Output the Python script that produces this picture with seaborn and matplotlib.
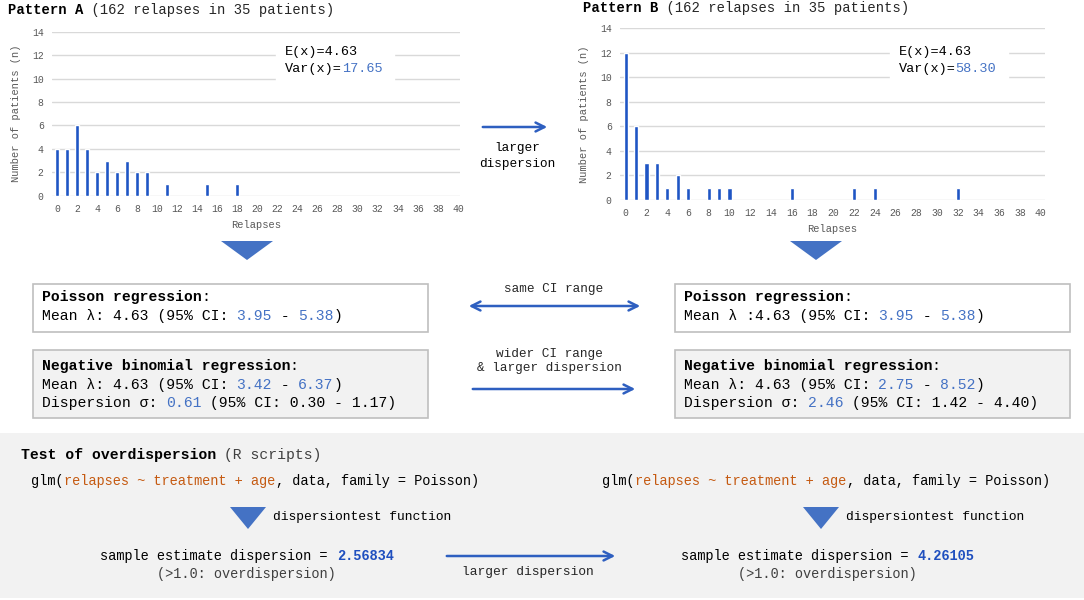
import matplotlib
matplotlib.use("Agg")
import matplotlib.pyplot as plt
from matplotlib.patches import Rectangle, Polygon, FancyArrowPatch
import seaborn as sns

# -------------------------------
# Data
# -------------------------------
relapses_a = [0, 1, 2, 3, 4, 5, 6, 7, 8, 9, 11, 15, 18]
patients_a = [4, 4, 6, 4, 2, 3, 2, 3, 2, 2, 1, 1, 1]
relapses_b = [0, 1, 2, 3, 4, 5, 6, 8, 9, 10, 16, 22, 24, 32]
patients_b = [12, 6, 3, 3, 1, 2, 1, 1, 1, 1, 1, 1, 1, 1]

mean_a, var_a = "4.63", "17.65"
mean_b, var_b = "4.63", "58.30"
pois_ci = ("3.95", "5.38")
nb_ci_a, nb_disp_a, nb_disp_ci_a = ("3.42", "6.37"), "0.61", ("0.30", "1.17")
nb_ci_b, nb_disp_b, nb_disp_ci_b = ("2.75", "8.52"), "2.46", ("1.42", "4.40")
test_disp_a, test_disp_b = "2.56834", "4.26105"

x_ticks = list(range(0, 41, 2))
y_ticks = list(range(0, 15, 2))

# -------------------------------
# Style
# -------------------------------
sns.set_style("white")
MONO = "Liberation Mono"
plt.rcParams["font.family"] = [MONO, "DejaVu Sans"]

W, H, DPI = 1084, 600, 100
BAR = "#1f55c4"
LBLUE = "#4472c4"
DBLUE = "#1f4fbf"
ORANGE = "#c55a11"
GRAY_TXT = "#595959"
ARROW = "#2e5fc0"
BORDER = "#bfbfbf"
PANEL = "#f2f2f2"

fig = plt.figure(figsize=(W / DPI, H / DPI), dpi=DPI)

# base axes in pixel coordinates (y goes down), drawn above the histograms
base = fig.add_axes([0, 0, 1, 1])
base.set_xlim(0, W)
base.set_ylim(H, 0)
base.axis("off")
base.set_zorder(10)


def seg(x, y, parts, fs, ha="left", va="center"):
    """draw monospace text made of coloured pieces"""
    cw = 0.6 * fs * DPI / 72
    total = sum(len(p[0]) for p in parts) * cw
    if ha == "center":
        x -= total / 2
    for s, c, w in parts:
        base.text(x, y, s, color=c, fontsize=fs, fontweight=w,
                  family=[MONO, "DejaVu Sans"], ha="left", va=va, zorder=4)
        x += len(s) * cw


def arrow(x0, y0, x1, y1, both=False):
    st = "<->" if both else "->"
    base.add_patch(FancyArrowPatch((x0, y0), (x1, y1), arrowstyle=st,
                                   mutation_scale=16, color=ARROW, lw=1.8))


def tri(cx, top, w, h):
    base.add_patch(Polygon([(cx - w / 2, top), (cx + w / 2, top), (cx, top + h)],
                           closed=True, color=LBLUE, lw=0))


def hist(px, relapses, patients):
    l, r, t, b, x0, x1 = px
    ax = fig.add_axes([l / W, 1 - b / H, (r - l) / W, (b - t) / H])
    ax.set_facecolor("none")
    sns.barplot(x=relapses, y=patients, native_scale=True, color=BAR,
                width=0.4, saturation=1, ax=ax, zorder=3)
    ax.set_xlim(x0, x1)
    ax.set_ylim(0, 14)
    ax.set_xticks(x_ticks)
    ax.set_yticks(y_ticks)
    ax.yaxis.grid(True, color="#d9d9d9", lw=1)
    ax.set_axisbelow(True)
    for s in ax.spines.values():
        s.set_visible(False)
    ax.tick_params(length=0, labelsize=7, colors=GRAY_TXT, pad=6)
    ax.set_xlabel("Relapses", fontsize=7.5, color=GRAY_TXT, labelpad=4)
    ax.set_ylabel("Number of patients (n)", fontsize=7.5, color=GRAY_TXT, labelpad=8)
    return ax


# -------------------------------
# Histograms
# -------------------------------
hist((52, 460, 31.7, 195.7, -0.5, 40.2), relapses_a, patients_a)
hist((620, 1045, 28.3, 200, -0.55, 40.4), relapses_b, patients_b)

# titles
seg(8, 10, [("Pattern A", "black", "bold"),
            (" (162 relapses in 35 patients)", "#262626", "normal")], 10)
seg(583, 8, [("Pattern B", "black", "bold"),
             (" (162 relapses in 35 patients)", "#262626", "normal")], 10)

# E(x) / Var(x) labels with white background
for bx, mv, vv in [(276, mean_a, var_a), (890, mean_b, var_b)]:
    base.add_patch(Rectangle((bx, 43), 118, 41, color="white", zorder=2))
    seg(bx + 9, 52, [("E(x)=" + mv, "black", "normal")], 9.7)
    seg(bx + 9, 69, [("Var(x)=", "black", "normal"), (vv, LBLUE, "normal")], 9.7)

# arrow between the histograms
arrow(480, 127, 550, 127)
base.text(517, 156, "larger\ndispersion", ha="center", va="center",
          fontsize=9.2, linespacing=1.35, color="black")

# triangles under the histograms
tri(247, 241, 52, 19)
tri(816, 241, 52, 19)

# -------------------------------
# Regression boxes
# -------------------------------
FS = 10.6
for bx in [33, 675]:
    base.add_patch(Rectangle((bx, 284), 395, 48, facecolor="white",
                             edgecolor=BORDER, lw=1.2))
    base.add_patch(Rectangle((bx, 350), 395, 68, facecolor=PANEL,
                             edgecolor=BORDER, lw=1.2))

seg(42, 297, [("Poisson regression", "black", "bold"), (":", "black", "normal")], FS)
seg(42, 316, [("Mean λ: 4.63 (95% CI: ", "black", "normal"), (pois_ci[0], LBLUE, "normal"),
              (" - ", "black", "normal"), (pois_ci[1], LBLUE, "normal"), (")", "black", "normal")], FS)
seg(42, 366, [("Negative binomial regression", "black", "bold"), (":", "black", "normal")], FS)
seg(42, 385, [("Mean λ: 4.63 (95% CI: ", "black", "normal"), (nb_ci_a[0], LBLUE, "normal"),
              (" - ", "black", "normal"), (nb_ci_a[1], LBLUE, "normal"), (")", "black", "normal")], FS)
seg(42, 403, [("Dispersion σ: ", "black", "normal"), (nb_disp_a, LBLUE, "normal"),
              (f" (95% CI: {nb_disp_ci_a[0]} - {nb_disp_ci_a[1]})", "black", "normal")], FS)

seg(684, 297, [("Poisson regression", "black", "bold"), (":", "black", "normal")], FS)
seg(684, 316, [("Mean λ :4.63 (95% CI: ", "black", "normal"), (pois_ci[0], LBLUE, "normal"),
               (" - ", "black", "normal"), (pois_ci[1], LBLUE, "normal"), (")", "black", "normal")], FS)
seg(684, 366, [("Negative binomial regression", "black", "bold"), (":", "black", "normal")], FS)
seg(684, 385, [("Mean λ: 4.63 (95% CI: ", "black", "normal"), (nb_ci_b[0], LBLUE, "normal"),
               (" - ", "black", "normal"), (nb_ci_b[1], LBLUE, "normal"), (")", "black", "normal")], FS)
seg(684, 403, [("Dispersion σ: ", "black", "normal"), (nb_disp_b, LBLUE, "normal"),
               (f" (95% CI: {nb_disp_ci_b[0]} - {nb_disp_ci_b[1]})", "black", "normal")], FS)

# middle arrows
base.text(554, 289, "same CI range", ha="center", va="center", fontsize=9.2)
arrow(466, 306, 643, 306, both=True)
base.text(549, 361, "wider CI range\n& larger dispersion", ha="center", va="center",
          fontsize=9.2, linespacing=1.3)
arrow(470, 389, 638, 389)

# -------------------------------
# Test of overdispersion panel
# -------------------------------
base.add_patch(Rectangle((0, 433), W, 165, color=PANEL, lw=0))
seg(21, 455, [("Test of overdispersion", "black", "bold"),
              (" (R scripts)", "#404040", "normal")], 10.6)

FB = 9.8
for gx in [31, 602]:
    seg(gx, 481, [("glm(", "black", "normal"), ("relapses ~ treatment + age", ORANGE, "normal"),
                  (", data, family = Poisson)", "black", "normal")], FB)

for tx in [248, 821]:
    tri(tx, 507, 36, 22)
    seg(tx + 25, 517, [("dispersiontest function", "black", "normal")], 9.4)

for cx, val in [(247, test_disp_a), (828, test_disp_b)]:
    seg(cx, 556, [("sample estimate dispersion = ", "black", "normal"),
                  (val, DBLUE, "bold")], FB, ha="center")
    seg(cx, 574, [("(>1.0: overdispersion)", "#404040", "normal")], FB, ha="center")

arrow(444, 556, 618, 556)
base.text(528, 572, "larger dispersion", ha="center", va="center", fontsize=9.4)

fig.savefig("out.png", dpi=DPI)
